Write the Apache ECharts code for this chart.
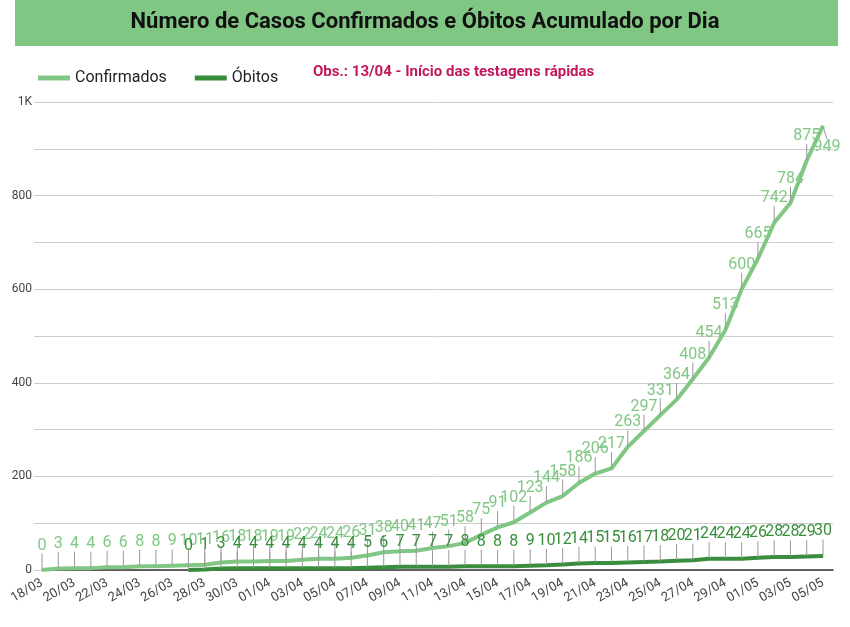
<!DOCTYPE html>
<html>
<head>
<meta charset="utf-8">
<script src="https://cdn.jsdelivr.net/npm/echarts@6/dist/echarts.min.js"></script>
<style>
	html, body { margin: 0; padding: 0; background: #fff; }
	#chart { width: 850px; height: 627px; }
</style>
</head>
<body>
<div id="chart"></div>
<script>
let dias = ['18/03', '19/03', '20/03', '21/03', '22/03', '23/03', '24/03', '25/03', '26/03', '27/03', '28/03', '29/03', '30/03', '31/03',
	'01/04', '02/04', '03/04', '04/04', '05/04', '06/04', '07/04', '08/04', '09/04', '10/04',
	'11/04', '12/04', '13/04', '14/04', '15/04', '16/04', '17/04', '18/04', '19/04', '20/04',
	'21/04', '22/04', '23/04', '24/04', '25/04', '26/04', '27/04', '28/04', '29/04', '30/04',
	'01/05', '02/05', '03/05', '04/05', '05/05']

let confirmados = [0, 3, 4, 4, 6, 6, 8, 8, 9, 10, 11, 16, 18, 18,
	19, 19, 22, 24, 24, 26, 31, 38, 40, 41,
	47, 51, 58, 75, 91, 102, 123, 144, 158, 186,
	206, 217, 263, 297, 331, 364, 408, 454, 513, 600,
	665, 742, 784, 875, 949]

// óbitos só começam a ser contados em 27/03
let obitos = [null, null, null, null, null, null, null, null, null, 0, 1, 3, 4, 4,
	4, 4, 4, 4, 4, 4, 5, 6, 7, 7,
	7, 7, 8, 8, 8, 8, 9, 10, 12, 14,
	15, 15, 16, 17, 18, 20, 21, 24, 24, 24,
	26, 28, 28, 29, 30]

let yTicks = [0, 200, 400, 600, 800, 1000]

let corConf = '#81c784'
let corObito = '#388e3c'
let fonte = 'Roboto, "Noto Sans", sans-serif'

let myChart = echarts.init(document.getElementById('chart'), null, { renderer: 'canvas' })

function serieBase(nome, dados, cor, ultimoAbaixo) {
	let ultimo = dados.length - 1
	return {
		name: nome,
		type: 'line',
		xAxisIndex: 1,
		yAxisIndex: 1,
		data: dados,
		symbol: 'circle',
		symbolSize: 1,
		showSymbol: true,
		itemStyle: { color: cor },
		lineStyle: { color: cor, width: 4 },
		animation: false,
		label: {
			show: true,
			position: 'top',
			distance: 4,
			color: cor,
			fontSize: 16,
			fontFamily: fonte
		},
		// o último rótulo de confirmados fica abaixo do ponto
		labelLayout: function (params) {
			if (ultimoAbaixo && params.dataIndex === ultimo) {
				return { dx: 4, dy: 34 }
			}
			return { dy: -12 }
		},
		labelLine: {
			show: true,
			length2: 0,
			lineStyle: { color: '#999', width: 1 }
		}
	}
}

let option = {
	animation: false,
	textStyle: { fontFamily: fonte },
	graphic: [
		{
			type: 'rect',
			shape: { x: 15, y: 0, width: 823, height: 46 },
			style: { fill: '#81c784' },
			silent: true
		},
		{
			type: 'text',
			left: 'center',
			top: 11,
			style: {
				text: 'Número de Casos Confirmados e Óbitos Acumulado por Dia',
				font: 'bold 22px ' + fonte,
				fill: '#111'
			}
		},
		{
			type: 'text',
			left: 313,
			top: 65,
			style: {
				text: 'Obs.: 13/04 - Início das testagens rápidas',
				font: 'bold 15px ' + fonte,
				fill: '#c2185b'
			}
		}
	],
	legend: {
		left: 33,
		top: 65,
		itemWidth: 32,
		itemHeight: 5,
		itemGap: 28,
		icon: 'rect',
		textStyle: { fontSize: 16, color: '#222', fontFamily: fonte },
		data: ['Confirmados', 'Óbitos']
	},
	grid: [
		{ left: 42, right: 17, top: 102, bottom: 57 },
		{ left: 42, right: 27, top: 102, bottom: 57 }
	],
	xAxis: [
		{
			gridIndex: 0,
			type: 'value',
			min: 0,
			max: 1,
			axisLine: { show: true, lineStyle: { color: '#333', width: 1.5 } },
			axisTick: { show: false },
			axisLabel: { show: false },
			splitLine: { show: false }
		},
		{
			gridIndex: 1,
			type: 'category',
			data: dias,
			boundaryGap: false,
			axisLine: { show: false },
			axisTick: { show: false },
			splitLine: { show: false },
			axisLabel: {
				interval: 1,
				rotate: 30,
				margin: 12,
				fontSize: 13,
				color: '#444',
				fontFamily: fonte
			}
		}
	],
	yAxis: [
		{
			gridIndex: 0,
			type: 'value',
			min: 0,
			max: 1000,
			interval: 100,
			axisLine: { show: false },
			axisTick: { show: true, length: 8, lineStyle: { color: '#ccc' } },
			splitLine: { lineStyle: { color: '#ccc' } },
			axisLabel: {
				margin: 10,
				fontSize: 12,
				color: '#444',
				fontFamily: fonte,
				formatter: function (v) {
					if (yTicks.indexOf(v) < 0) return ''
					return v >= 1000 ? (v / 1000) + 'K' : v
				}
			}
		},
		{
			gridIndex: 1,
			type: 'value',
			min: 0,
			max: 1000,
			show: false
		}
	],
	series: [
		serieBase('Confirmados', confirmados, corConf, true),
		serieBase('Óbitos', obitos, corObito, false)
	]
}

myChart.setOption(option)
</script>
</body>
</html>
